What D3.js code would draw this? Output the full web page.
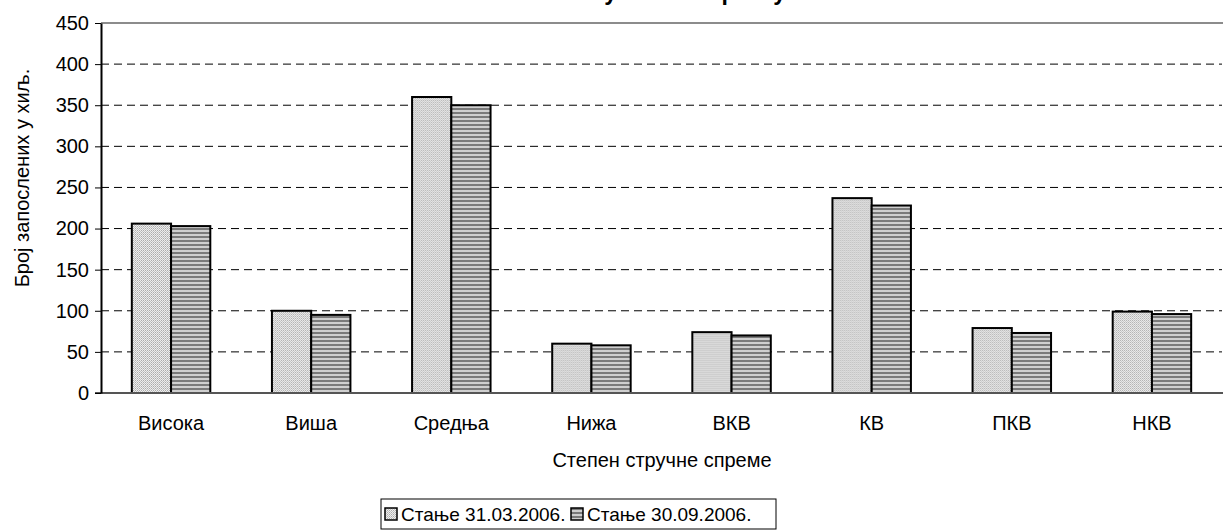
<!DOCTYPE html>
<html>
<head>
<meta charset="utf-8">
<script src="https://cdn.jsdelivr.net/npm/d3@7"></script>
<style>
  body { margin: 0; background: #fff; }
  text { font-family: "Liberation Sans", Arial, sans-serif; }
</style>
</head>
<body>
<div id="chart"></div>
<script>
// data
const categories = ["Висока", "Виша", "Средња", "Нижа", "ВКВ", "КВ", "ПКВ", "НКВ"]
const seriesNames = ["Стање 31.03.2006.", "Стање 30.09.2006."]
const march = [206, 100, 360, 60, 74, 237, 79, 99]
const september = [203, 95, 350, 58, 70, 228, 73, 96]
const yTicks = [0, 50, 100, 150, 200, 250, 300, 350, 400, 450]

const width = 1223, height = 530
const margin = { top: 23, left: 101, right: 1, bottom: 137 }

const svg = d3.select("#chart").append("svg")
    .attr("width", width)
    .attr("height", height)

// patterns for the two series
const defs = svg.append("defs")
const dots = defs.append("pattern").attr("id", "pat0")
    .attr("patternUnits", "userSpaceOnUse").attr("width", 2).attr("height", 2)
dots.append("rect").attr("width", 2).attr("height", 2).attr("fill", "#eeeeee")
dots.append("rect").attr("width", 1).attr("height", 1).attr("fill", "#adadad")
dots.append("rect").attr("x", 1).attr("y", 1).attr("width", 1).attr("height", 1).attr("fill", "#c4c4c4")

const stripes = defs.append("pattern").attr("id", "pat1")
    .attr("patternUnits", "userSpaceOnUse").attr("width", 4).attr("height", 4)
stripes.append("rect").attr("width", 4).attr("height", 4).attr("fill", "#cfcfcf")
stripes.append("rect").attr("width", 4).attr("height", 2).attr("fill", "#7a7a7a")

const x0 = d3.scaleBand()
    .domain(categories)
    .range([margin.left, width - margin.right])
    .padding(0)

const x1 = d3.scaleBand()
    .domain([0, 1])
    .range([x0.bandwidth() * 0.22, x0.bandwidth() * 0.78])

const y = d3.scaleLinear()
    .domain([0, 450])
    .range([height - margin.bottom, margin.top])

// dashed gridlines
svg.append("g")
    .selectAll("line")
    .data(yTicks.filter(d => d > 0 && d < 450))
    .join("line")
    .attr("x1", margin.left)
    .attr("x2", width - margin.right)
    .attr("y1", d => y(d))
    .attr("y2", d => y(d))
    .attr("stroke", "#000")
    .attr("stroke-width", 1)
    .attr("stroke-dasharray", "8,5")

// top border of plot area
svg.append("line")
    .attr("x1", margin.left).attr("x2", width)
    .attr("y1", y(450)).attr("y2", y(450))
    .attr("stroke", "#8c8c8c").attr("stroke-width", 2)

// bars
const groups = svg.append("g")
    .selectAll("g")
    .data(categories.map((c, i) => ({ cat: c, vals: [march[i], september[i]] })))
    .join("g")
    .attr("transform", d => `translate(${x0(d.cat)},0)`)

groups.selectAll("rect")
    .data(d => d.vals.map((v, k) => ({ k, v })))
    .join("rect")
    .attr("x", d => x1(d.k))
    .attr("width", x1.bandwidth())
    .attr("y", d => y(d.v))
    .attr("height", d => y(0) - y(d.v))
    .attr("fill", d => `url(#pat${d.k})`)
    .attr("stroke", "#000")
    .attr("stroke-width", 2)

// x axis line
svg.append("line")
    .attr("x1", margin.left - 6).attr("x2", width)
    .attr("y1", y(0)).attr("y2", y(0))
    .attr("stroke", "#555").attr("stroke-width", 2)

// y axis
const yAxis = svg.append("g")
    .attr("transform", `translate(${margin.left},0)`)
    .call(d3.axisLeft(y).tickValues(yTicks).tickSize(6).tickSizeOuter(0))
yAxis.select(".domain").attr("stroke", "#000").attr("stroke-width", 2)
yAxis.selectAll(".tick line").attr("stroke", "#000")
yAxis.selectAll(".tick text")
    .attr("x", -12)
    .style("font-size", "20px")
    .style("font-family", "Liberation Sans, Arial, sans-serif")
    .attr("fill", "#000")

// category labels
svg.append("g")
    .selectAll("text")
    .data(categories)
    .join("text")
    .attr("x", d => x0(d) + x0.bandwidth() / 2)
    .attr("y", 430)
    .attr("text-anchor", "middle")
    .style("font-size", "20px")
    .text(d => d)

// axis titles
svg.append("text")
    .attr("x", (margin.left + width) / 2)
    .attr("y", 467)
    .attr("text-anchor", "middle")
    .style("font-size", "20px")
    .text("Степен стручне спреме")

svg.append("text")
    .attr("transform", "translate(29,178) rotate(-90)")
    .attr("text-anchor", "middle")
    .style("font-size", "20px")
    .text("Број запослених у хиљ.")

// chart title, cut off at the top like in the original (only descenders show)
svg.append("text")
    .attr("x", 475)
    .attr("y", 0)
    .style("font-size", "23px")
    .style("font-weight", "bold")
    .text("Запослени у Министарству")

// legend
const legend = svg.append("g").attr("transform", "translate(381,499)")
legend.append("rect")
    .attr("width", 395).attr("height", 30)
    .attr("fill", "#fff").attr("stroke", "#000").attr("stroke-width", 1)
const items = legend.selectAll("g.item")
    .data(seriesNames)
    .join("g")
    .attr("class", "item")
    .attr("transform", (d, i) => `translate(${4 + i * 186},9)`)
items.append("rect")
    .attr("width", 12).attr("height", 12)
    .attr("fill", (d, i) => `url(#pat${i})`)
    .attr("stroke", "#000").attr("stroke-width", 1.5)
items.append("text")
    .attr("x", 16)
    .attr("y", 13)
    .style("font-size", "19px")
    .text(d => d)
</script>
</body>
</html>
